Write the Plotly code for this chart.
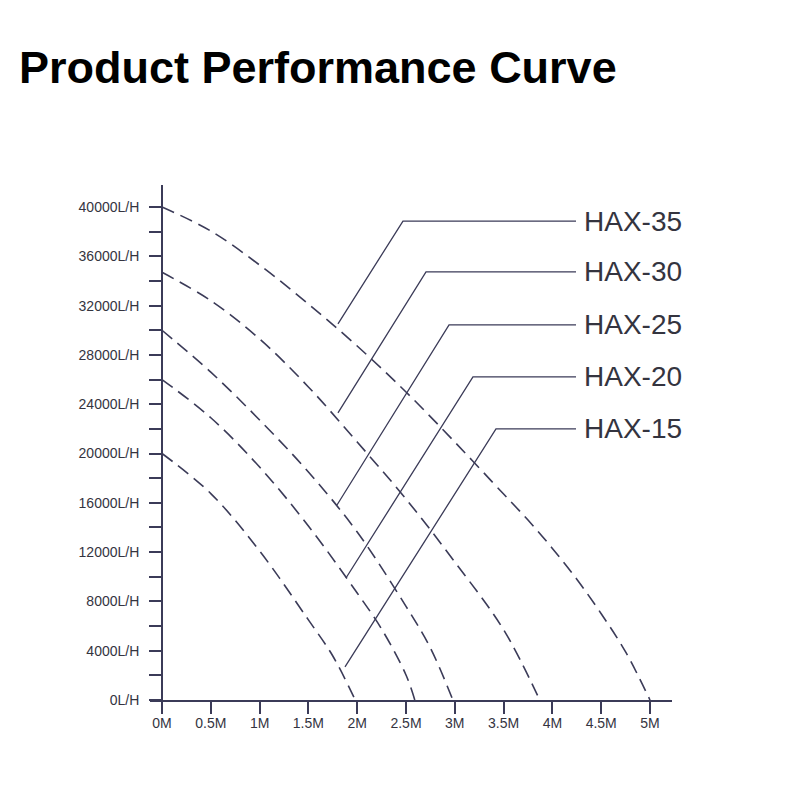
import plotly.graph_objects as go

# ---------------- data ----------------
models = ["HAX-35", "HAX-30", "HAX-25", "HAX-20", "HAX-15"]

head_hax35 = [0, 0.5, 1, 1.5, 2, 2.5, 3, 3.5, 3.75, 4, 4.25, 4.5, 4.75, 5.0]
flow_hax35 = [40000, 38050, 35290, 32130, 28720, 24990, 20930, 16710, 14600, 12300, 9800, 7000, 3900, 0]

head_hax30 = [0, 0.5, 1, 1.5, 2, 2.5, 3, 3.5, 3.87]
flow_hax30 = [34700, 32400, 29290, 25400, 20930, 16310, 11200, 5700, 0]

head_hax25 = [0, 0.5, 1, 1.5, 2, 2.5, 2.75, 2.98]
flow_hax25 = [30000, 26600, 22720, 18500, 13630, 7600, 4220, 0]

head_hax20 = [0, 0.5, 1, 1.5, 2, 2.25, 2.5, 2.59]
flow_hax20 = [26000, 22900, 18900, 14120, 8680, 5760, 2030, 0]

head_hax15 = [0, 0.5, 1, 1.5, 1.75, 1.98]
flow_hax15 = [20000, 16750, 12090, 6500, 3570, 0]

heads = [head_hax35, head_hax30, head_hax25, head_hax20, head_hax15]
flows = [flow_hax35, flow_hax30, flow_hax25, flow_hax20, flow_hax15]

# leader lines (data units): foot on curve -> elbow -> horizontal end
leader_foot_x = [1.803, 1.803, 1.793, 1.885, 1.875]
leader_foot_y = [30510, 23290, 15820, 9900, 2680]
leader_elbow_x = [2.469, 2.705, 2.941, 3.186, 3.422]
leader_elbow_y = [38860, 34730, 30430, 26210, 21990]
leader_end_x = 4.242
label_x = 4.30

y_tick_vals = [0, 4000, 8000, 12000, 16000, 20000, 24000, 28000, 32000, 36000, 40000]
y_tick_text = ["0L/H", "4000L/H", "8000L/H", "12000L/H", "16000L/H", "20000L/H",
               "24000L/H", "28000L/H", "32000L/H", "36000L/H", "40000L/H"]
y_minor_ticks = [2000, 6000, 10000, 14000, 18000, 22000, 26000, 30000, 34000, 38000]
x_tick_vals = [0, 0.5, 1, 1.5, 2, 2.5, 3, 3.5, 4, 4.5, 5]
x_tick_text = ["0M", "0.5M", "1M", "1.5M", "2M", "2.5M", "3M", "3.5M", "4M", "4.5M", "5M"]

# ---------------- figure ----------------
INK = "#3b3b58"
TXT = "#34343f"

fig = go.Figure()

for h, q in zip(heads, flows):
    fig.add_trace(go.Scatter(
        x=h, y=q, mode="lines",
        line=dict(color=INK, width=1.6, dash="13px,7px", shape="spline", smoothing=1.0),
        hoverinfo="skip", showlegend=False))

for i, name in enumerate(models):
    fig.add_trace(go.Scatter(
        x=[leader_foot_x[i], leader_elbow_x[i], leader_end_x],
        y=[leader_foot_y[i], leader_elbow_y[i], leader_elbow_y[i]],
        mode="lines", line=dict(color=INK, width=1.3),
        hoverinfo="skip", showlegend=False))
    fig.add_annotation(x=label_x, y=leader_elbow_y[i], text=name, showarrow=False,
                       xanchor="left", yanchor="middle",
                       font=dict(family="Liberation Sans, Arial, sans-serif", size=28, color=TXT))

fig.update_layout(
    width=790, height=802,
    margin=dict(l=150, r=118, t=185, b=102),
    paper_bgcolor="white", plot_bgcolor="white",
    title=dict(text="<b>Product Performance Curve</b>",
               x=19 / 790, xanchor="left", xref="container",
               y=1 - 67 / 802, yanchor="middle", yref="container",
               font=dict(family="Liberation Sans, Arial", size=45, color="black")),
    xaxis=dict(range=[-12 / 97.6, 510 / 97.6], showgrid=False, zeroline=False,
               showline=True, linecolor=INK, linewidth=1.8,
               ticks="outside", ticklen=12, tickwidth=1.5, tickcolor=INK,
               tickmode="array", tickvals=x_tick_vals, ticktext=x_tick_text,
               ticklabelstandoff=-3,
               tickfont=dict(family="Liberation Sans, Arial", size=14, color=TXT)),
    yaxis=dict(range=[0, 515 / 12.325 * 1000], showgrid=False, zeroline=False,
               anchor="free", position=12 / 522,
               showline=True, linecolor=INK, linewidth=1.8,
               ticks="outside", ticklen=12, tickwidth=1.5, tickcolor=INK,
               tickmode="array", tickvals=y_tick_vals, ticktext=y_tick_text,
               ticklabelstandoff=7,
               minor=dict(tickmode="array", tickvals=y_minor_ticks, ticks="outside",
                          ticklen=12, tickwidth=1.5, tickcolor=INK, showgrid=False),
               tickfont=dict(family="Liberation Sans, Arial", size=14, color=TXT)),
)

fig.write_html("out.html")
